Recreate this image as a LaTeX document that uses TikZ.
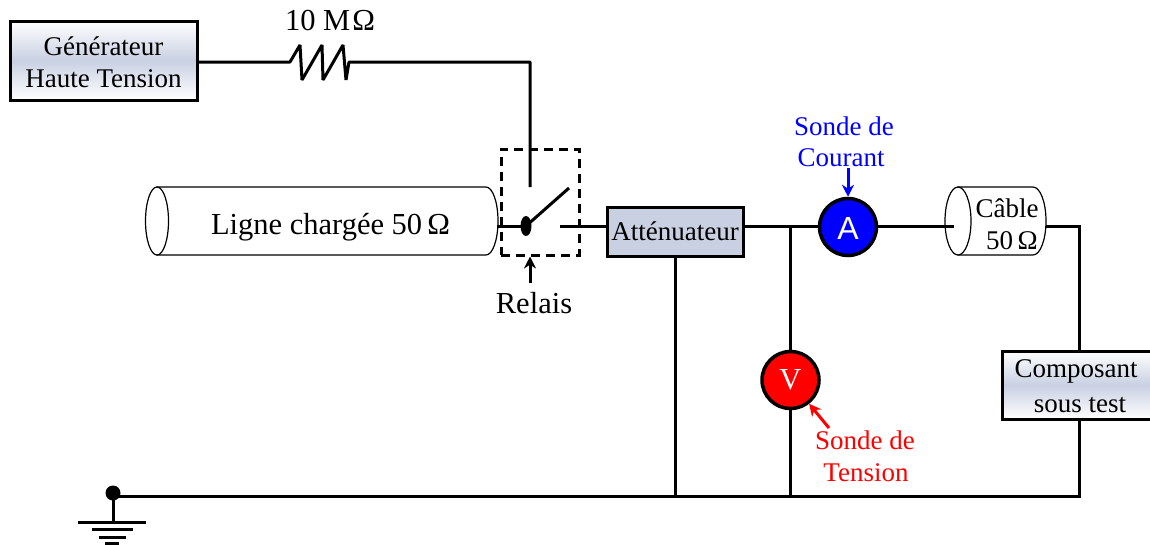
\documentclass[tikz,border=0pt]{standalone}
\usepackage{fontspec}
\setmainfont{Liberation Serif}
\newfontfamily\sansf{Liberation Sans}
\usetikzlibrary{arrows.meta}
\definecolor{boxblue}{HTML}{C9D0E2}
\definecolor{shadowgray}{HTML}{A0A0A0}
\newcommand{\fsA}{\fontsize{27}{32}\selectfont}
\newcommand{\fsB}{\fontsize{30.5}{36}\selectfont}
\tikzset{
  wire/.style={line width=3pt,line cap=butt,line join=miter},
  tube/.style={line width=1.2pt,fill=white},
  txt/.style={inner sep=0pt,align=center,font=\fsA},
  bigtxt/.style={inner sep=0pt,align=center,font=\fsB},
  gradbox/.style={draw,line width=3pt,top color=white,bottom color=white,middle color=boxblue,inner sep=0pt,align=center,font=\fsA},
  meter/.style={circle,draw,line width=3.5pt,minimum size=57pt,inner sep=0pt,text=white},
  probe/.style={line width=3pt,-{Stealth[length=12pt,width=12pt]}},
}
\begin{document}
\begin{tikzpicture}[x=1pt,y=-1pt]
\useasboundingbox (0,0) rectangle (1150,544);

% shadows of the gradient boxes
\fill[shadowgray] (10.5,22) rectangle (198,101.5);
\fill[shadowgray] (1003,352) rectangle (1152,420.5);

% boxes
\node[gradbox,minimum width=187pt,minimum height=79pt] (gen) at (103.5,60.5) {};
\node[txt] (gen1) at (103.5,46.5) {G\'en\'erateur};
\node[txt] (gen2) at (103.5,78.5) {Haute Tension};
\node[gradbox,minimum width=150pt,minimum height=68pt] (comp) at (1077,385) {};
\node[txt] (comp1) at (1076,371) {Composant};
\node[txt] (comp2) at (1080,405) {sous test};
\node[draw,line width=3pt,fill=boxblue,inner sep=0pt,minimum width=136pt,minimum height=49pt,font=\fsA] (att) at (675,231.5) {Att\'enuateur};

% named points
\coordinate (r0) at (290,62);
\coordinate (r7) at (349,62);
\coordinate (top) at (530,62);
\coordinate (contactA) at (530,187);
\coordinate (sw) at (526,226);
\coordinate (armend) at (569,188);
\coordinate (contactB) at (560,226);
\coordinate (j1) at (790.5,226);
\coordinate (j2) at (1079.5,226);
\coordinate (gnd) at (113,493);
\coordinate (lineL) at (113,496);
\coordinate (lineA) at (675,496);
\coordinate (lineV) at (790.5,496);
\coordinate (lineC) at (1079.5,496);
\coordinate (cableIn) at (954,226);
\coordinate (cableOut) at (1046,226);
\coordinate (lineOut) at (497,226);

% charged line
\path[tube,draw] (157,187) -- (486,187) arc[start angle=90,end angle=-90,x radius=12pt,y radius=34pt] -- (157,255) -- cycle;
\draw[tube] (157,221) ellipse[x radius=11.5pt,y radius=34pt];
\node[bigtxt] (ligne) at (330.5,227) {Ligne charg\'ee 50\,\symbol{"03A9}};

% coax cable
\path[tube,draw] (958,187) -- (1033,187) arc[start angle=90,end angle=-90,x radius=13pt,y radius=34pt] -- (958,255) -- cycle;
\draw[tube] (958,221) ellipse[x radius=13pt,y radius=34pt];
\node[txt] (cable) at (1007,208) {C\^able};
\node[txt] (cable50) at (1012,241) {50\,\symbol{"03A9}};

% meters
\node[meter,fill=blue,font=\sansf\fontsize{32}{36}\selectfont] (A) at (848,227) {};
\node[font=\sansf\fontsize{32}{36}\selectfont,text=white,inner sep=0pt] (Alabel) at (848,228) {A};
\node[meter,fill=red,font=\fsB] (V) at (790.5,380) {V};

% wires
\draw[wire,line join=bevel] (gen.east |- r0) -- (r0) -- (300,45) -- (302,80) -- (322,45) -- (323,80) -- (343,45) -- (346,80) -- (r7) -- (top) -- (contactA);
\draw[wire] (lineOut) -- (sw);
\draw[wire] (sw) -- (armend);
\draw[wire] (contactB) -- (att.west |- contactB);
\draw[wire] (att.east |- j1) -- (A.west |- j1);
\draw[wire] (A.east |- j1) -- (cableIn);
\draw[wire] (cableOut) -- (j2) -- (comp.north -| j2);
\draw[wire] (comp.south -| j2) -- (lineC) -- (lineL);
\draw[wire] (j1) -- (V.north);
\draw[wire] (V.south) -- (lineV);
\draw[wire] (att.south -| lineA) -- (lineA);

% relay
\node[draw,line width=3pt,dash pattern=on 9pt off 6pt,minimum width=78pt,minimum height=106pt,inner sep=0pt] (relay) at (540,202) {};
\fill (sw) ellipse[x radius=5.5pt,y radius=10pt];
\node[bigtxt] (relais) at (534,303) {Relais};
\coordinate (relaisArrow) at (530,283);
\draw[probe] (relaisArrow) -- (relay.south -| relaisArrow);

% ground
\fill (gnd) circle[radius=7.5pt];
\coordinate (g0) at (113,522);
\draw[wire] (gnd) -- (g0);
\draw[wire] (78,522) -- (146,522);
\draw[wire] (92,529.5) -- (133,529.5);
\draw[wire] (99,537) -- (126,537);
\draw[wire] (105,543) -- (119,543);

% labels
\node[bigtxt] (res) at (330,21) {10 M\kern2pt\symbol{"03A9}};
\node[txt,text=blue] (sc1) at (844,126) {Sonde de};
\node[txt,text=blue] (sc2) at (841,158) {Courant};
\node[txt,text=red] (st1) at (865,440) {Sonde de};
\node[txt,text=red] (st2) at (866,473) {Tension};
\coordinate (pa) at (848,168);
\draw[probe,blue] (pa) -- (A.north);
\coordinate (pv) at (829,428);
\draw[probe,red] (pv) -- (V.-52);
\end{tikzpicture}
\end{document}
